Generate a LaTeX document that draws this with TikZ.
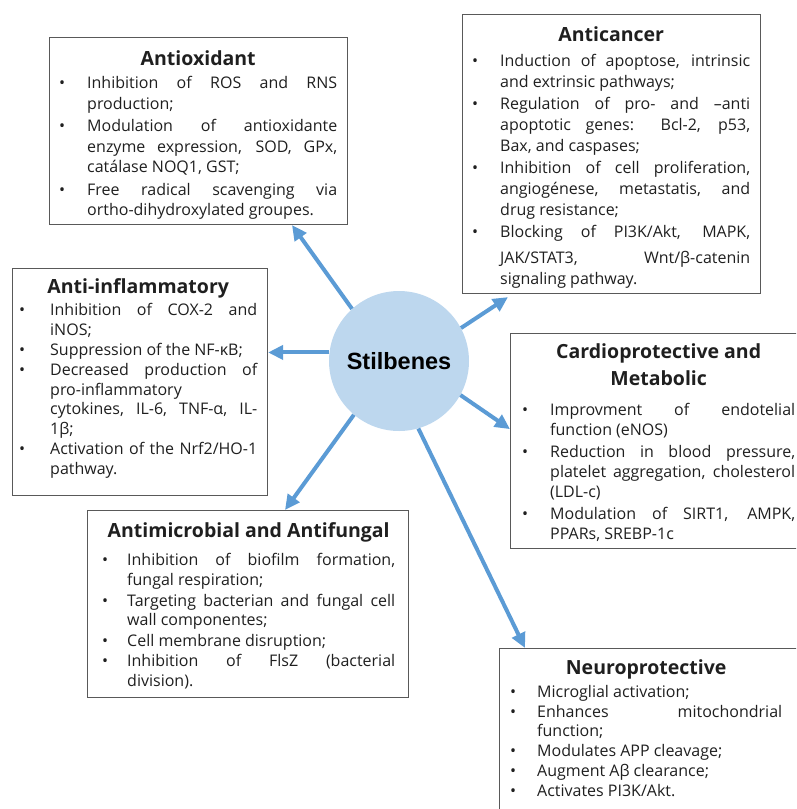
\documentclass[tikz,border=0pt]{standalone}
\usepackage{fontspec}
\setmainfont{Open Sans}
\newfontfamily\stilfont{Liberation Sans}
\usepackage{tikz}
\usetikzlibrary{arrows.meta}
\usetikzlibrary{positioning}

\definecolor{stilblue}{HTML}{BDD7EE}
\definecolor{linkblue}{HTML}{5B9BD5}
\definecolor{edgegray}{HTML}{595959}

\newlength{\bulw}
\newcommand{\bul}{\par\noindent\hangindent=\bulw\hangafter=1\hbox to \bulw{\textbullet\hfil}}
\newcommand{\ttl}[2][1pt]{{\centering\fontsize{19.5}{26}\selectfont\bfseries #2\par}\vspace{#1}}

\tolerance=9999
\hyphenpenalty=10000
\exhyphenpenalty=10000

\begin{document}
\begin{tikzpicture}[x=1pt,y=-1pt,
  panel/.style={draw=edgegray,line width=1.1pt,anchor=north west,inner sep=0pt},
  txt/.style n args={3}{anchor=north west,inner sep=0pt,align=justify,text=black!88,
    font=\fontsize{16}{#2}\selectfont,
    execute at begin node={\setlength{\bulw}{#1}\setlength{\parskip}{#3}}},
  link/.style={draw=linkblue,line width=4pt,-{Triangle[length=15pt,width=14pt]}}]
 \useasboundingbox (0,0) rectangle (796,809);
 \clip (0,0) rectangle (796,809);

 \node[circle,fill=stilblue,minimum size=140pt,inner sep=0pt] (stil) at (399,361)
   {\stilfont\fontsize{23.5}{28}\selectfont\bfseries Stilbenes};

 % boxes
 \node[panel,minimum width=298pt,minimum height=187pt] (aox) at (49,37) {};
 \node[txt={28pt}{20.7pt}{1.5pt},text width=278pt] (aoxtxt) at ([xshift=10pt,yshift=-13.5pt]aox.north west) {%
   \ttl[0.8pt]{Antioxidant}%
   \bul Inhibition of ROS and RNS \linebreak production;
   \bul Modulation of antioxidante \linebreak enzyme expression, SOD, GPx, \linebreak catálase NOQ1, GST;
   \bul Free radical scavenging via \linebreak ortho-dihydroxylated groupes.\par};

 \node[panel,minimum width=298pt,minimum height=279pt] (acan) at (462,14) {};
 \node[txt={28pt}{21pt}{1pt},text width=278pt] (acantxt) at ([xshift=10pt,yshift=-12.5pt]acan.north west) {%
   \ttl[3pt]{Anticancer}%
   \bul Induction of apoptose, intrinsic \linebreak and extrinsic pathways;
   \bul Regulation of pro- and –anti \linebreak apoptotic genes: Bcl-2, p53, \linebreak Bax, and caspases;
   \bul Inhibition of cell proliferation, \linebreak angiogénese, metastatis, and \linebreak drug resistance;
   \bul Blocking of PI3K/Akt, MAPK, \linebreak \rule{0pt}{21.5pt}JAK/STAT3, Wnt/β-catenin \linebreak signaling pathway.\par};

 \node[panel,minimum width=255pt,minimum height=227pt] (ainf) at (12,268) {};
 \node[txt={31pt}{19.6pt}{0.6pt},text width=238pt] (ainftxt) at ([xshift=7pt,yshift=-10.5pt]ainf.north west) {%
   \ttl[1.8pt]{Anti-inflammatory}%
   \bul Inhibition of COX-2 and \linebreak iNOS;
   \bul Suppression of the NF-κB;
   \bul Decreased production of \linebreak pro-inflammatory\newline cytokines, IL-6, TNF-α, IL-\linebreak 1β;
   \bul Activation of the Nrf2/HO-1 \linebreak pathway.\par};

 \node[panel,minimum width=297pt,minimum height=215pt] (card) at (510,333) {};
 \node[txt={28pt}{20.3pt}{1.2pt},text width=273pt] (cardtxt) at ([xshift=12pt,yshift=-10pt]card.north west) {%
   \ttl[0pt]{Cardioprotective and}\ttl[8.5pt]{Metabolic}%
   \bul Improvment of endotelial \linebreak function (eNOS)
   \bul Reduction in blood pressure, \linebreak platelet aggregation, cholesterol \linebreak (LDL-c)
   \bul Modulation of SIRT1, AMPK, \linebreak PPARs, SREBP-1c\par};

 \node[panel,minimum width=321pt,minimum height=187pt] (amic) at (87,510) {};
 \node[txt={25pt}{19.3pt}{1.5pt},text width=293pt] (amictxt) at ([xshift=15pt,yshift=-12pt]amic.north west) {%
   \ttl[8pt]{Antimicrobial and Antifungal}%
   \bul Inhibition of biofilm formation, \linebreak fungal respiration;
   \bul Targeting bacterian and fungal cell \linebreak wall componentes;
   \bul Cell membrane disruption;
   \bul Inhibition of FlsZ (bacterial \linebreak division).\par};

 \node[panel,minimum width=306pt,minimum height=175pt] (neuro) at (499,648) {};
 \node[txt={27pt}{19.5pt}{0.3pt},text width=272pt] (neurotxt) at ([xshift=11pt,yshift=-11.5pt]neuro.north west) {%
   \ttl[3pt]{Neuroprotective}%
   \bul Microglial activation;
   \bul Enhances mitochondrial \linebreak function;
   \bul Modulates APP cleavage;
   \bul Augment Aβ clearance;
   \bul Activates PI3K/Akt.\par};

 % arrows
 \draw[link] (stil.132) -- ([xshift=243pt]aox.south west);
 \draw[link] (stil.28) -- ([xshift=46pt,yshift=-3pt]acan.south west);
 \draw[link] (stil.173) -- (stil.173 -| ainf.east);
 \draw[link] (stil.-29) -- ([yshift=120pt]card.south west);
 \draw[link] (stil.230) -- ([xshift=198pt]amic.north west);
 \draw[link] (stil.-74) -- ([xshift=26pt]neuro.north west);
\end{tikzpicture}
\end{document}
